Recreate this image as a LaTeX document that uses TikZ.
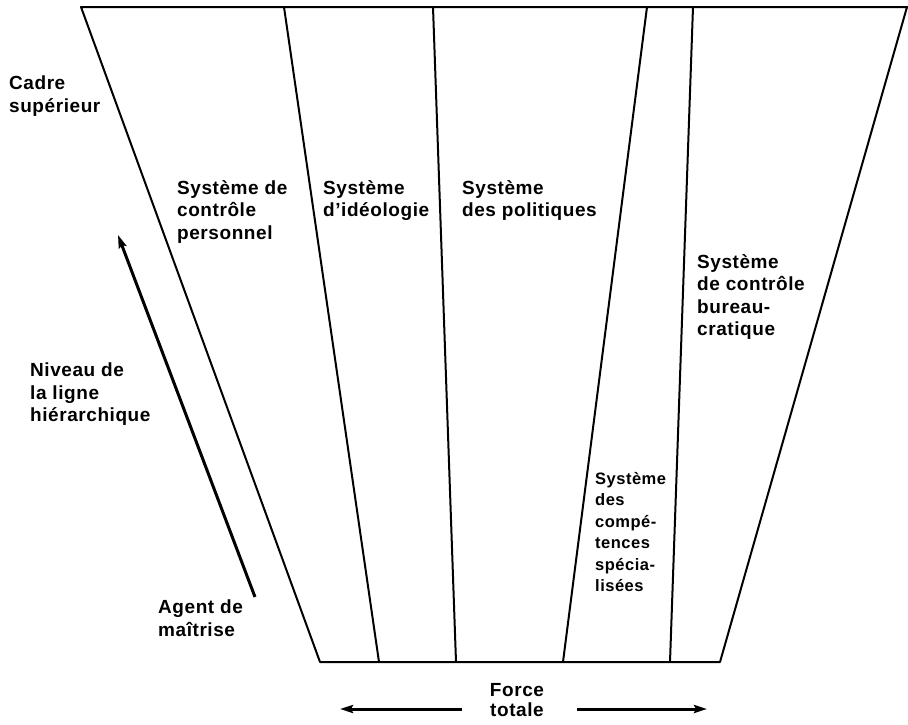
\documentclass[tikz,border=0pt]{standalone}
\usepackage{fontspec}
\setmainfont[LetterSpace=3]{Liberation Sans}
\usetikzlibrary{arrows.meta}
\begin{document}
\begin{tikzpicture}[x=1pt,y=-1pt,
  edge/.style={line width=2pt, line join=round},
  lbl/.style={anchor=north west, inner sep=0pt, align=left,
    font=\bfseries\fontsize{19}{22.5}\selectfont},
  smalllbl/.style={lbl, font=\bfseries\fontsize{16.5}{21.5}\selectfont},
  thick arrow/.style={line width=3pt, -{Stealth[length=13pt,width=8pt,inset=2pt]}}]
\useasboundingbox (0,0) rectangle (908,724);

% outline of the trapezoid
\coordinate (TL) at (81,7);
\coordinate (TR) at (907,7);
\coordinate (BR) at (720,662);
\coordinate (BL) at (320,662);
\draw[edge] (908,7) -- (TL) -- (BL) -- (BR) -- (TR);

% dividing lines between the systems
\coordinate (t1) at (284,7);  \coordinate (b1) at (379,662);
\coordinate (t2) at (433,7);  \coordinate (b2) at (456,662);
\coordinate (t3) at (647,7);  \coordinate (b3) at (563,662);
\coordinate (t4) at (693,7);  \coordinate (b4) at (670,662);
\draw[edge] (t1) -- (b1);
\draw[edge] (t2) -- (b2);
\draw[edge] (t3) -- (b3);
\draw[edge] (t4) -- (b4);

% system labels
\node[lbl] (perso) at (177,180) {Système de\\contrôle\\personnel};
\node[lbl] (ideo) at (323,180) {Système\\d’idéologie};
\node[lbl] (poli) at (462,180) {Système\\des politiques};
\node[lbl] (bureau) at (697,254) {Système\\de contrôle\\bureau-\\cratique};
\node[smalllbl] (comp) at (595,472) {Système\\des\\compé-\\tences\\spécia-\\lisées};

% hierarchy labels and arrow
\node[lbl] (cadre) at (9,76) {Cadre\\supérieur};
\node[lbl] (niveau) at (30,363) {Niveau de\\la ligne\\hiérarchique};
\node[lbl] (agent) at (158,600) {Agent de\\maîtrise};
\coordinate (lowlvl) at (255,597);
\coordinate (highlvl) at (118,235);
\draw[thick arrow] (lowlvl) -- (highlvl);

% total force
\node[anchor=north, inner sep=0pt, align=center,
  font=\bfseries\fontsize{19}{20.5}\selectfont] (force) at (517,683) {Force\\totale};
\coordinate (fl0) at (462,709); \coordinate (fl1) at (340,709);
\coordinate (fr0) at (577,709); \coordinate (fr1) at (707,709);
\draw[thick arrow] (fl0) -- (fl1);
\draw[thick arrow] (fr0) -- (fr1);
\end{tikzpicture}
\end{document}
